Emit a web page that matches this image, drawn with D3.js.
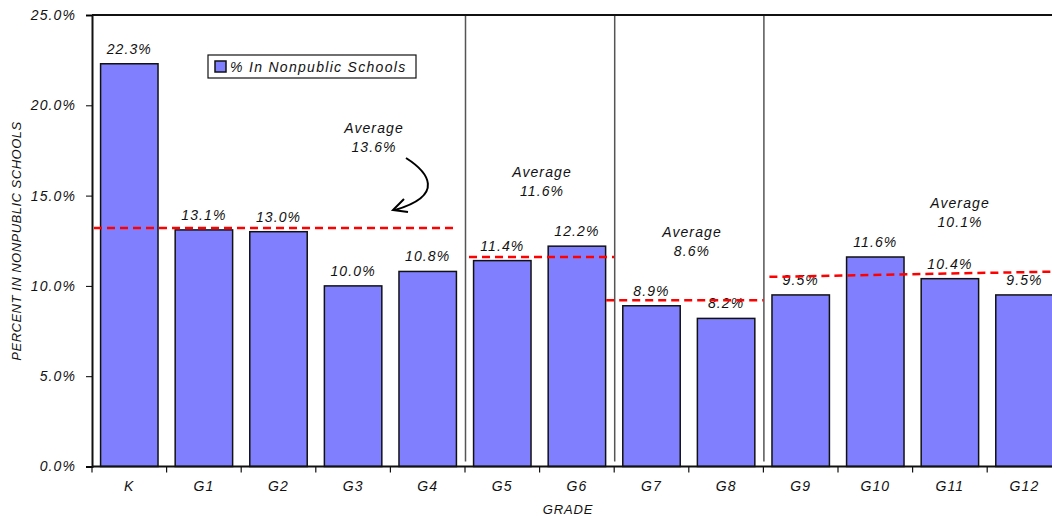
<!DOCTYPE html>
<html>
<head>
<meta charset="utf-8">
<script src="https://cdn.jsdelivr.net/npm/d3@7"></script>
<style>
  body { margin: 0; background: #fff; }
  text { font-family: "Liberation Sans", Arial, sans-serif; font-style: italic; fill: #111; }
</style>
</head>
<body>
<script>
// data
var grades = ['K','G1','G2','G3','G4','G5','G6','G7','G8','G9','G10','G11','G12'];
var pctNonpublic = [22.3, 13.1, 13.0, 10.0, 10.8, 11.4, 12.2, 8.9, 8.2, 9.5, 11.6, 10.4, 9.5];
var yTicks = [0, 5, 10, 15, 20, 25];

// grade groups with their stated averages and where the dashed line sits
var groupFirst = ['K','G5','G7','G9'];
var groupLast = ['G4','G6','G8','G12'];
var groupAvgText = ['13.6%','11.6%','8.6%','10.1%'];
var avgLineFrom = [13.2, 11.6, 9.2, 10.5];
var avgLineTo = [13.2, 11.6, 9.2, 10.8];

var W = 1052, H = 516;
var plotLeft = 92, plotTop = 15, plotBottom = 466.5;
var LS = '1.1px'; // the original text runs a bit wider than Liberation Sans

var svg = d3.select('body').append('svg')
    .attr('width', W)
    .attr('height', H);

var x = d3.scaleBand()
    .domain(grades)
    .range([plotLeft, plotLeft + 13 * 74.6])
    .paddingInner(0.23)
    .paddingOuter(0.115);

var y = d3.scaleLinear()
    .domain([0, 25])
    .range([plotBottom, plotTop]);

var step = x.step();
function bandStart(g) { return plotLeft + grades.indexOf(g) * step; }

// bars
svg.selectAll('rect.bar')
    .data(pctNonpublic)
    .enter().append('rect')
    .attr('class', 'bar')
    .attr('x', function(d, i) { return x(grades[i]); })
    .attr('y', function(d) { return y(d); })
    .attr('width', x.bandwidth())
    .attr('height', function(d) { return y(0) - y(d); })
    .attr('fill', '#8080ff')
    .attr('stroke', '#111')
    .attr('stroke-width', 1.5);

// value labels
svg.selectAll('text.val')
    .data(pctNonpublic)
    .enter().append('text')
    .attr('class', 'val')
    .attr('x', function(d, i) { return x(grades[i]) + x.bandwidth() / 2; })
    .attr('y', function(d) { return y(d) - 10; })
    .attr('text-anchor', 'middle')
    .style('font-size', '14px')
    .style('letter-spacing', LS)
    .text(function(d) { return d.toFixed(1) + '%'; });

// group separators
groupFirst.slice(1).forEach(function(g) {
    var sx = bandStart(g) + 0.5;
    svg.append('line')
        .attr('x1', sx).attr('x2', sx)
        .attr('y1', plotTop).attr('y2', plotBottom - 5)
        .attr('stroke', '#555')
        .attr('stroke-width', 1.5);
});

// dashed average lines
var lineInset = [[2, -8], [4, 0], [-8, 0], [6, 0]];
groupFirst.forEach(function(g, i) {
    var x1 = bandStart(g) + lineInset[i][0];
    var x2 = bandStart(groupLast[i]) + step + lineInset[i][1];
    svg.append('line')
        .attr('x1', x1).attr('x2', x2)
        .attr('y1', y(avgLineFrom[i])).attr('y2', y(avgLineTo[i]))
        .attr('stroke', '#ff0000')
        .attr('stroke-width', 2.5)
        .attr('stroke-dasharray', '8,5');
});

// average annotations
var avgPos = [[374, 133], [542, 177], [692, 237], [960, 208]];
groupAvgText.forEach(function(t, i) {
    var txt = svg.append('text')
        .attr('text-anchor', 'middle')
        .attr('x', avgPos[i][0])
        .attr('y', avgPos[i][1])
        .style('font-size', '14px')
        .style('letter-spacing', LS);
    txt.append('tspan').attr('x', avgPos[i][0]).text('Average');
    txt.append('tspan').attr('x', avgPos[i][0]).attr('dy', 19).text(t);
});

// curved arrow
svg.append('path')
    .attr('d', 'M406,158 C428,172 446,195 395,210')
    .attr('fill', 'none')
    .attr('stroke', '#000')
    .attr('stroke-width', 2);
svg.append('path')
    .attr('d', 'M404,199 L393,210 L408,212')
    .attr('fill', 'none')
    .attr('stroke', '#000')
    .attr('stroke-width', 2);

// axes
var yAxis = svg.append('g')
    .attr('transform', 'translate(' + plotLeft + ',0)')
    .call(d3.axisLeft(y).tickValues(yTicks).tickSize(6).tickPadding(10)
        .tickFormat(function(d) { return d.toFixed(1) + '%'; }));
yAxis.select('.domain').attr('stroke', '#111').attr('stroke-width', 2);
yAxis.selectAll('text').style('font-size', '14px').style('letter-spacing', LS)
    .style('font-family', '"Liberation Sans", Arial, sans-serif').attr('fill', '#111');

svg.append('line')
    .attr('x1', plotLeft).attr('x2', W)
    .attr('y1', plotTop).attr('y2', plotTop)
    .attr('stroke', '#111')
    .attr('stroke-width', 2);

svg.append('line')
    .attr('x1', plotLeft).attr('x2', W)
    .attr('y1', plotBottom).attr('y2', plotBottom)
    .attr('stroke', '#111')
    .attr('stroke-width', 2);

svg.selectAll('line.xtick')
    .data(grades)
    .enter().append('line')
    .attr('class', 'xtick')
    .attr('x1', function(d) { return bandStart(d); })
    .attr('x2', function(d) { return bandStart(d); })
    .attr('y1', plotBottom).attr('y2', plotBottom + 6)
    .attr('stroke', '#111')
    .attr('stroke-width', 1.2);

svg.selectAll('text.xlab')
    .data(grades)
    .enter().append('text')
    .attr('class', 'xlab')
    .attr('x', function(d) { return x(d) + x.bandwidth() / 2; })
    .attr('y', 491)
    .attr('text-anchor', 'middle')
    .style('font-size', '14px')
    .style('letter-spacing', LS)
    .text(function(d) { return d; });

svg.append('text')
    .attr('x', 568).attr('y', 514)
    .attr('text-anchor', 'middle')
    .style('font-size', '13px')
    .style('letter-spacing', '0.9px')
    .text('GRADE');

svg.append('text')
    .attr('transform', 'translate(21,241) rotate(-90)')
    .attr('text-anchor', 'middle')
    .style('font-size', '13px')
    .style('letter-spacing', '0.5px')
    .text('PERCENT IN NONPUBLIC SCHOOLS');

// legend
var lg = svg.append('g').attr('transform', 'translate(208,55)');
lg.append('rect')
    .attr('width', 208).attr('height', 23)
    .attr('fill', '#fff')
    .attr('stroke', '#111')
    .attr('stroke-width', 1.2);
lg.append('rect')
    .attr('x', 7).attr('y', 6)
    .attr('width', 11).attr('height', 11)
    .attr('fill', '#8080ff')
    .attr('stroke', '#111')
    .attr('stroke-width', 1.5);
lg.append('text')
    .attr('x', 22).attr('y', 17)
    .style('font-size', '14px')
    .style('letter-spacing', '1.3px')
    .text('% In Nonpublic Schools');
</script>
</body>
</html>
